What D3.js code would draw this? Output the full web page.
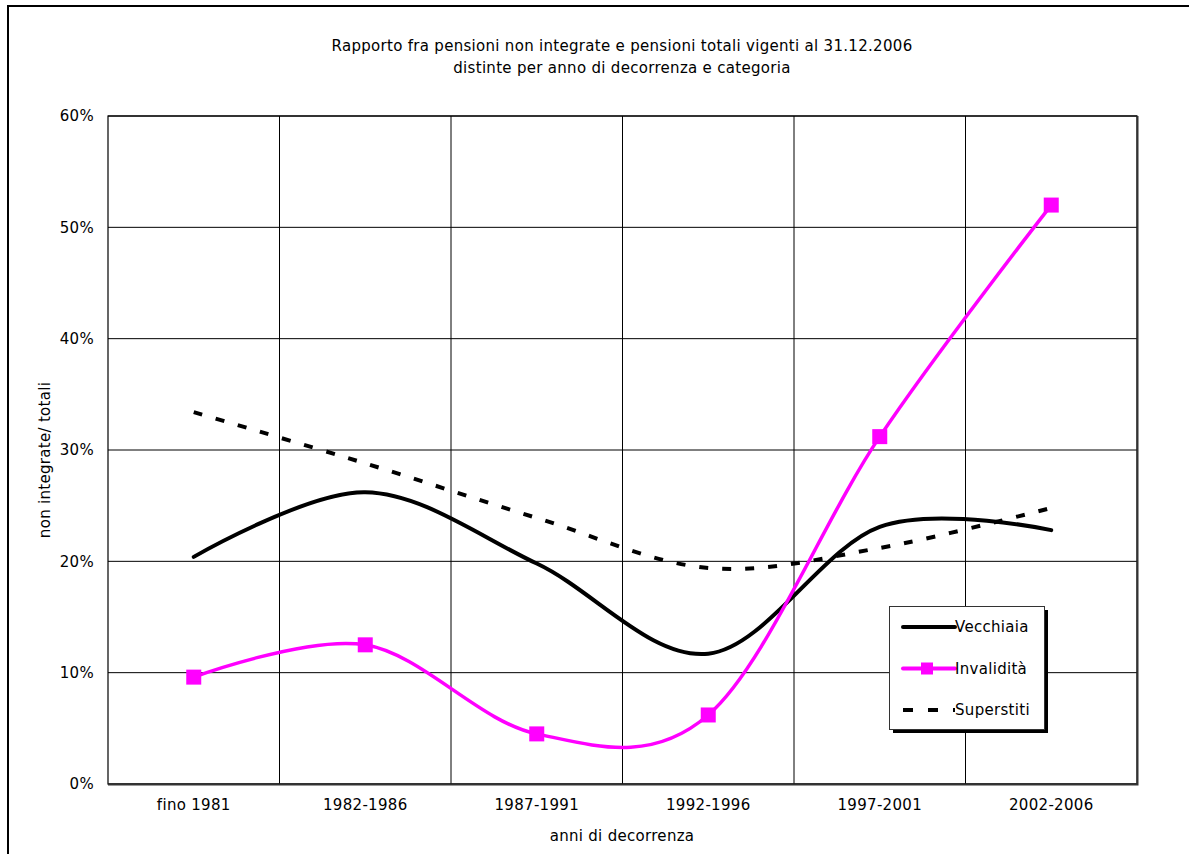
<!DOCTYPE html>
<html>
<head>
<meta charset="utf-8">
<script src="https://cdn.jsdelivr.net/npm/d3@7"></script>
<style>
  body { margin: 0; background: #fff; }
  svg { display: block; font-family: "DejaVu Sans", Verdana, sans-serif; }
</style>
</head>
<body>
<div id="chart"></div>
<script>
var categories = ["fino 1981", "1982-1986", "1987-1991", "1992-1996", "1997-2001", "2002-2006"];
var vecchiaia = [20.4, 26.2, 19.8, 11.7, 23.1, 22.8];
var invalidita = [9.6, 12.5, 4.5, 6.2, 31.2, 52.0];
var superstiti = [33.4, 28.8, 23.9, 19.4, 21.2, 24.8];
var yTicks = [0, 10, 20, 30, 40, 50, 60];
var titleLines = ["Rapporto fra pensioni non integrate e pensioni totali vigenti al 31.12.2006",
                  "distinte per anno di decorrenza e categoria"];

var width = 1189, height = 854;
var margin = { top: 116, right: 52, bottom: 70, left: 108 };
var w = width - margin.left - margin.right,
    h = height - margin.top - margin.bottom;
var fontSize = 15, spacing = 0.3;

var svg = d3.select('#chart').append('svg')
    .attr('width', width)
    .attr('height', height);

// outer frame (left + top only, the rest is cut off)
svg.append('path')
    .attr('d', 'M8,854 V6 H1189')
    .attr('fill', 'none')
    .attr('stroke', '#000')
    .attr('stroke-width', 2);

// title
svg.selectAll('text.title')
    .data(titleLines).enter()
    .append('text')
    .attr('class', 'title')
    .attr('x', 622)
    .attr('y', function (d, i) { return 51 + i * 22; })
    .attr('text-anchor', 'middle')
    .attr('font-size', fontSize)
    .attr('letter-spacing', spacing)
    .text(function (d) { return d; });

var g = svg.append('g').attr('transform', 'translate(' + margin.left + ',' + margin.top + ')');

var x = d3.scaleBand().domain(categories).range([0, w]);
var y = d3.scaleLinear().domain([0, 60]).range([h, 0]);
var cx = function (d, i) { return x(categories[i]) + x.bandwidth() / 2; };

// horizontal gridlines
g.selectAll('line.hgrid')
    .data(yTicks).enter()
    .append('line')
    .attr('x1', 0).attr('x2', w)
    .attr('y1', function (d) { return y(d); })
    .attr('y2', function (d) { return y(d); })
    .attr('stroke', '#000')
    .attr('stroke-width', 1);

// vertical gridlines at band edges
g.selectAll('line.vgrid')
    .data(categories.slice(1)).enter()
    .append('line')
    .attr('x1', function (d) { return x(d); })
    .attr('x2', function (d) { return x(d); })
    .attr('y1', 0).attr('y2', h)
    .attr('stroke', '#000')
    .attr('stroke-width', 1);

// plot border
g.append('rect')
    .attr('x', 0).attr('y', 0)
    .attr('width', w).attr('height', h)
    .attr('fill', 'none')
    .attr('stroke', '#000')
    .attr('stroke-width', 1.2);
g.append('path')
    .attr('d', 'M' + (w + 0.5) + ',0 V' + (h + 0.5) + ' H0')
    .attr('fill', 'none')
    .attr('stroke', '#333')
    .attr('stroke-width', 2);

// y axis labels
var yAxis = g.append('g')
    .call(d3.axisLeft(y).tickValues(yTicks).tickSize(0).tickPadding(14)
        .tickFormat(function (d) { return d + '%'; }));
yAxis.select('.domain').remove();
yAxis.selectAll('text')
    .attr('font-size', fontSize)
    .attr('letter-spacing', spacing)
    .attr('font-family', '"DejaVu Sans", Verdana, sans-serif')
    .attr('fill', '#000');

// x axis labels
var xAxis = g.append('g')
    .attr('transform', 'translate(0,' + h + ')')
    .call(d3.axisBottom(x).tickSize(0).tickPadding(15));
xAxis.select('.domain').remove();
xAxis.selectAll('text')
    .attr('font-size', fontSize)
    .attr('letter-spacing', spacing)
    .attr('font-family', '"DejaVu Sans", Verdana, sans-serif')
    .attr('fill', '#000');

// axis titles
svg.append('text')
    .attr('x', margin.left + w / 2 - 0.5)
    .attr('y', 841)
    .attr('text-anchor', 'middle')
    .attr('font-size', fontSize)
    .attr('letter-spacing', spacing)
    .text('anni di decorrenza');

svg.append('text')
    .attr('transform', 'translate(50,' + 460 + ') rotate(-90)')
    .attr('text-anchor', 'middle')
    .attr('font-size', fontSize)
    .attr('letter-spacing', spacing)
    .text('non integrate/ totali');

var line = d3.line()
    .x(cx)
    .y(function (d) { return y(d); })
    .curve(d3.curveCardinal.tension(0));

// series
g.append('path')
    .datum(superstiti)
    .attr('d', line)
    .attr('fill', 'none')
    .attr('stroke', '#000')
    .attr('stroke-width', 4)
    .attr('stroke-dasharray', '9,14');

g.append('path')
    .datum(vecchiaia)
    .attr('d', line)
    .attr('fill', 'none')
    .attr('stroke', '#000')
    .attr('stroke-width', 4)
    .attr('stroke-linecap', 'round');

g.append('path')
    .datum(invalidita)
    .attr('d', line)
    .attr('fill', 'none')
    .attr('stroke', '#ff00ff')
    .attr('stroke-width', 3.5);

g.selectAll('rect.mk')
    .data(invalidita).enter()
    .append('rect')
    .attr('x', function (d, i) { return cx(d, i) - 7.5; })
    .attr('y', function (d) { return y(d) - 7.5; })
    .attr('width', 15).attr('height', 15)
    .attr('fill', '#ff00ff');

// legend
var legend = svg.append('g').attr('transform', 'translate(889,606)');
legend.append('rect')
    .attr('x', 4).attr('y', 4)
    .attr('width', 155).attr('height', 123)
    .attr('fill', '#000');
legend.append('rect')
    .attr('x', 0.5).attr('y', 0.5)
    .attr('width', 155).attr('height', 123)
    .attr('fill', '#fff')
    .attr('stroke', '#333')
    .attr('stroke-width', 1);

var legendItems = [
    { name: 'Vecchiaia', color: '#000', dash: null, marker: false },
    { name: 'Invalidità', color: '#ff00ff', dash: null, marker: true },
    { name: 'Superstiti', color: '#000', dash: '10,15', marker: false }
];
var li = legend.selectAll('g.item')
    .data(legendItems).enter()
    .append('g')
    .attr('transform', function (d, i) { return 'translate(0,' + (21 + i * 41.5) + ')'; });
li.append('line')
    .attr('x1', 14).attr('x2', 66)
    .attr('y1', 0).attr('y2', 0)
    .attr('stroke', function (d) { return d.color; })
    .attr('stroke-width', 4)
    .attr('stroke-linecap', function (d) { return d.dash ? 'butt' : 'round'; })
    .attr('stroke-dasharray', function (d) { return d.dash; });
li.filter(function (d) { return d.marker; })
    .append('rect')
    .attr('x', 32).attr('y', -6)
    .attr('width', 12).attr('height', 12)
    .attr('fill', '#ff00ff');
li.append('text')
    .attr('x', 66)
    .attr('y', 5)
    .attr('font-size', fontSize)
    .attr('letter-spacing', spacing)
    .text(function (d) { return d.name; });
</script>
</body>
</html>
